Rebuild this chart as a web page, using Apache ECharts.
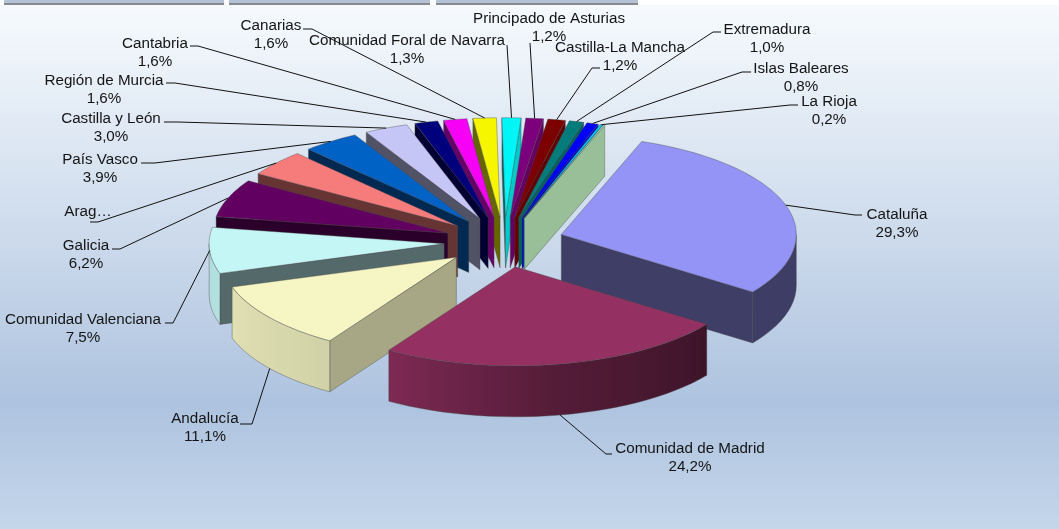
<!DOCTYPE html>
<html><head><meta charset="utf-8">
<style>html,body{margin:0;padding:0;background:#fff}#c{width:1059px;height:529px}</style>
<script src="https://cdn.jsdelivr.net/npm/echarts@6/dist/echarts.min.js"></script>
</head><body><div id="c"></div>
<script>
const categories = ['Cataluña','Comunidad de Madrid','Andalucía','Comunidad Valenciana','Galicia','Aragón','País Vasco','Castilla y León','Región de Murcia','Cantabria','Canarias','Comunidad Foral de Navarra','Principado de Asturias','Castilla-La Mancha','Extremadura','Islas Baleares','La Rioja','Otros'];
const values = [29.3,24.2,11.1,7.5,6.2,4.2,3.9,3.0,1.6,1.6,1.6,1.3,1.2,1.2,1.0,0.8,0.2,0.1];
const colors = ['#9999FF','#993366','#FFFFCC','#CCFFFF','#660066','#FF8080','#0066CC','#CCCCFF','#000080','#FF00FF','#FFFF00','#00FFFF','#800080','#800000','#008080','#0000FF','#00CCFF','#CCFFCC'];
// label placement: [text centre x, first line centre y, elbow outer x, elbow y, elbow inner x]
const labelLayout = [
 [897,214.5,862,215,855],[690,448.5,612,454,606],[205,418.5,240,424,252],[83,319.5,165,323,173],
 [86,245.5,112,249,120],[88,211.5,90,222,98],[100,159.5,141,163,155],[111,118.5,164,122,178],
 [104,80.5,166,83,175],[155,43.5,190,46,198],[271,25.5,303,29,312],[407,40.5,507,45,507],
 [549,18.5,530,43,530],[620,47.5,600,68,592],[767,29.5,721,32,713],[801,68.5,751,72,742],[829,101.5,798,105,790],null];
const truncated = {5:'Arag…'};

const cx=504, cy=242, Rx=235, Ry=99, depth=51, explode=60, startDeg=20, faceShade=0.965;
const total = values.reduce((a,b)=>a+b,0);
const rad = d=>d*Math.PI/180;
let acc = startDeg;
const slices = values.map((v,i)=>{
  const a=acc, b=acc+v/total*360; acc=b; const mid=(a+b)/2;
  return {i,a,b,mid,ax:cx+explode*Math.sin(rad(mid)),ay:cy-explode*Ry/Rx*Math.cos(rad(mid))};
});
const rimPt=(s,t)=>[s.ax+Rx*Math.sin(rad(t)), s.ay-Ry*Math.cos(rad(t))];
const lerpTable=(tb,x)=>{ if(x<=tb[0][0])return tb[0][1]; for(let k=1;k<tb.length;k++){ if(x<=tb[k][0]){const[p,q]=tb[k-1],[r,u]=tb[k];return q+(u-q)*(x-p)/(r-p);} } return tb[tb.length-1][1]; };
const wallShade=[[90,.8],[110,.75],[123,.65],[163,.41],[270,.4]];
const rimShade=[[90,.4],[125,.4],[170,.55],[212,.82],[252,.88],[280,.85]];
const shade=(hex,f)=>{const n=parseInt(hex.slice(1),16);return 'rgb('+[(n>>16)&255,(n>>8)&255,n&255].map(c=>Math.round(c*f)).join(',')+')';};
const edge='rgba(70,70,70,0.55)';
const poly=(pts,fill)=>({type:'polygon',shape:{points:pts},style:{fill,stroke:edge,lineWidth:0.7}});
const norm=d=>((d%360)+360)%360;

function renderSlice(params,api){
  const s=slices[api.value(0)], col=colors[s.i], kids=[];
  const down=p=>[p[0],p[1]+depth];
  const apex=[s.ax,s.ay];
  const wall=(t,n)=>{const p=rimPt(s,t);kids.push(poly([apex,p,down(p),down(apex)],shade(col,lerpTable(wallShade,norm(n)))));};
  if(Math.sin(rad(s.a))<0) wall(s.a,s.a-90);
  if(Math.sin(rad(s.b))>0) wall(s.b,s.b+90);
  const ra=Math.max(s.a,90), rb=Math.min(s.b,270);
  if(rb>ra){
    const top=[],n=Math.max(2,Math.ceil((rb-ra)/3));
    for(let k=0;k<=n;k++) top.push(rimPt(s,ra+(rb-ra)*k/n));
    const bot=top.map(down).reverse();
    const x0=top[n][0], x1=top[0][0], stops=[];
    for(let k=n;k>=0;k--){
      const t=ra+(rb-ra)*k/n;
      stops.push({offset:x1>x0?(top[k][0]-x0)/(x1-x0):0,color:shade(col,lerpTable(rimShade,t))});
    }
    kids.push(poly(top.concat(bot),new echarts.graphic.LinearGradient(0,0,1,0,stops)));
  }
  const face=[apex];
  const m=Math.max(1,Math.ceil((s.b-s.a)/2));
  for(let k=0;k<=m;k++) face.push(rimPt(s,s.a+(s.b-s.a)*k/m));
  kids.push(poly(face,shade(col,faceShade)));
  return {type:'group',children:kids};
}
const pctText=v=>v.toFixed(1).replace('.',',')+'%';
function renderLabel(params,api){
  const i=api.value(0), s=slices[i], L=labelLayout[i], kids=[];
  const p=rimPt(s,s.mid); if(Math.cos(rad(s.mid))<-0.5) p[1]+=depth;
  kids.push({type:'polyline',shape:{points:[[L[2],L[3]],[L[4],L[3]],p]},style:{stroke:'#111',lineWidth:1,fill:null}});
  const lines = truncated[i]?[truncated[i]]:[categories[i],pctText(values[i])];
  lines.forEach((t,k)=>kids.push({type:'text',x:L[0],y:L[1]+k*18,style:{text:t,fill:'#141414',font:'15.2px "Liberation Sans", Arial, sans-serif',align:'center',verticalAlign:'middle'}}));
  return {type:'group',children:kids};
}
const order=slices.slice().sort((p,q)=>Math.cos(rad(q.mid))-Math.cos(rad(p.mid))).map(s=>[s.i,values[s.i]]);
const labelled=values.map((v,i)=>[i,v]).filter(d=>labelLayout[d[0]]);
const bar=(x,w)=>[
  {type:'rect',z:-4,silent:true,shape:{x,y:0,width:w,height:3},style:{fill:'#B4C2D6'}},
  {type:'rect',z:-4,silent:true,shape:{x,y:3,width:w,height:2},style:{fill:'#888A90'}}];
const chart=echarts.init(document.getElementById('c'));
chart.setOption({
  animation:false,
  graphic:[
    {type:'rect',z:-5,silent:true,shape:{x:0,y:5,width:1059,height:524},style:{fill:new echarts.graphic.LinearGradient(0,0,0,1,[{offset:0,color:'#F6FAFD'},{offset:0.76,color:'#AEC3DF'},{offset:1,color:'#C4D6EA'}])}},
    ...bar(4,220),...bar(229,201),...bar(436,202)
  ],
  series:[
    {type:'custom',coordinateSystem:'none',silent:true,renderItem:renderSlice,data:order,z:2},
    {type:'custom',coordinateSystem:'none',silent:true,renderItem:renderLabel,data:labelled,z:3}
  ]
});
</script></body></html>
